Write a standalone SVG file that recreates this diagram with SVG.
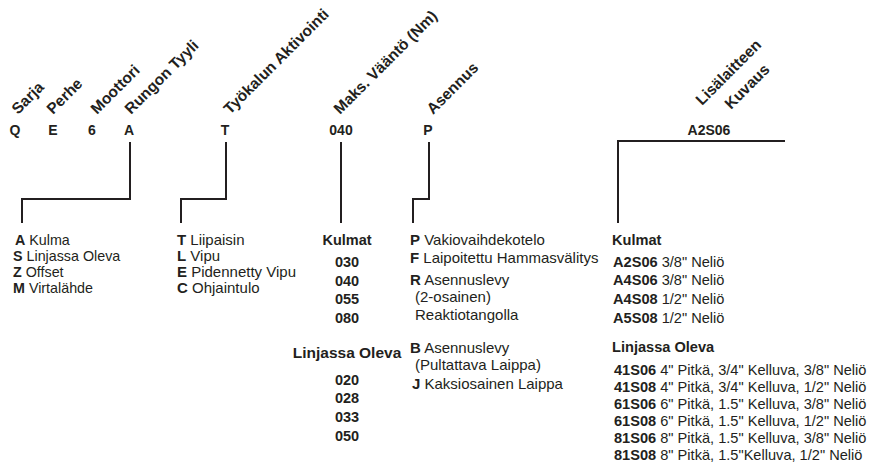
<svg xmlns="http://www.w3.org/2000/svg" width="871" height="467" viewBox="0 0 871 467">
<style>
text{font-family:"Liberation Sans",Arial,sans-serif;fill:#231f20}
.rot{font-size:15.5px;font-weight:bold}
.code{font-size:14px;font-weight:bold}
.b{font-weight:bold}
.t14{font-size:14.3px}
.t15{font-size:15px}
.tr{font-size:14.6px}
.mid{font-size:14.5px;font-weight:bold;text-anchor:middle}
.conn{fill:none;stroke:#231f20;stroke-width:2}
</style>
<rect width="871" height="467" fill="#fff"/>
<g id="headers">
<text class="rot" transform="translate(18,115) rotate(-45)">Sarja</text>
<text class="rot" transform="translate(53,115) rotate(-45)">Perhe</text>
<text class="rot" transform="translate(97,115) rotate(-45)">Moottori</text>
<text class="rot" transform="translate(131,115) rotate(-45)">Rungon Tyyli</text>
<text class="rot" transform="translate(230,115) rotate(-45)">Työkalun Aktivointi</text>
<text class="rot" transform="translate(340,115) rotate(-45)">Maks. Vääntö (Nm)</text>
<text class="rot" transform="translate(433,115) rotate(-45)">Asennus</text>
<text class="rot" transform="translate(702,106) rotate(-45)">Lisälaitteen</text>
<text class="rot" transform="translate(731,110) rotate(-45)">Kuvaus</text>
</g>
<g id="codes" class="code" text-anchor="middle">
<text x="15" y="135">Q</text>
<text x="53" y="135">E</text>
<text x="92" y="135">6</text>
<text x="129" y="135">A</text>
<text x="225" y="135">T</text>
<text x="341" y="135">040</text>
<text x="428" y="135">P</text>
<text x="709" y="135">A2S06</text>
</g>
<g id="connectors" class="conn">
<polyline points="130,142 130,199 22,199 22,223"/>
<polyline points="226,142 226,199 181,199 181,223"/>
<polyline points="341,142 341,223"/>
<polyline points="429,142 429,199 413,199 413,223"/>
<polyline points="785,141 618,141 618,223"/>
</g>
<g id="rungon-tyyli" class="t14">
<text x="15" y="245"><tspan class="b">A</tspan> Kulma</text>
<text x="13" y="261"><tspan class="b">S</tspan> Linjassa Oleva</text>
<text x="13" y="277"><tspan class="b">Z</tspan> Offset</text>
<text x="13" y="293"><tspan class="b">M</tspan>  Virtalähde</text>
</g>
<g id="tyokalun-aktivointi" class="t15">
<text x="177" y="245"><tspan class="b">T</tspan>  Liipaisin</text>
<text x="177" y="261"><tspan class="b">L</tspan>  Vipu</text>
<text x="177" y="277"><tspan class="b">E</tspan> Pidennetty Vipu</text>
<text x="177" y="293"><tspan class="b">C</tspan> Ohjaintulo</text>
</g>
<g id="maks-vaanto" class="mid">
<text x="347" y="245">Kulmat</text>
<text x="347" y="267">030</text>
<text x="347" y="286">040</text>
<text x="347" y="304">055</text>
<text x="347" y="323">080</text>
<text x="347" y="358" style="font-size:15.5px">Linjassa Oleva</text>
<text x="347" y="385">020</text>
<text x="347" y="403">028</text>
<text x="347" y="422">033</text>
<text x="347" y="441">050</text>
</g>
<g id="asennus" class="t15">
<text x="410" y="245"><tspan class="b">P</tspan> Vakiovaihdekotelo</text>
<text x="410" y="263"><tspan class="b">F</tspan> Laipoitettu Hammasvälitys</text>
<text x="410" y="285"><tspan class="b">R</tspan> Asennuslevy</text>
<text x="415" y="302">(2-osainen)</text>
<text x="415" y="320">Reaktiotangolla</text>
<text x="410" y="353"><tspan class="b">B</tspan> Asennuslevy</text>
<text x="415" y="370">(Pultattava Laippa)</text>
<text x="412" y="389"><tspan class="b">J</tspan> Kaksiosainen Laippa</text>
</g>
<g id="lisalaitteen-kuvaus" class="tr">
<text x="612" y="245" class="b">Kulmat</text>
<text x="613" y="267"><tspan class="b">A2S06</tspan> 3/8" Neliö</text>
<text x="613" y="285"><tspan class="b">A4S06</tspan> 3/8" Neliö</text>
<text x="613" y="304"><tspan class="b">A4S08</tspan> 1/2" Neliö</text>
<text x="613" y="323"><tspan class="b">A5S08</tspan> 1/2" Neliö</text>
<text x="612" y="352" class="b">Linjassa Oleva</text>
<text x="614" y="375"><tspan class="b">41S06</tspan> 4" Pitkä, 3/4" Kelluva, 3/8" Neliö</text>
<text x="614" y="392"><tspan class="b">41S08</tspan> 4" Pitkä, 3/4" Kelluva, 1/2" Neliö</text>
<text x="614" y="409"><tspan class="b">61S06</tspan> 6" Pitkä, 1.5" Kelluva, 3/8" Neliö</text>
<text x="614" y="426"><tspan class="b">61S08</tspan> 6" Pitkä, 1.5" Kelluva, 1/2" Neliö</text>
<text x="614" y="443"><tspan class="b">81S06</tspan> 8" Pitkä, 1.5" Kelluva, 3/8" Neliö</text>
<text x="614" y="460"><tspan class="b">81S08</tspan> 8" Pitkä, 1.5"Kelluva, 1/2" Neliö</text>
</g>
</svg>
